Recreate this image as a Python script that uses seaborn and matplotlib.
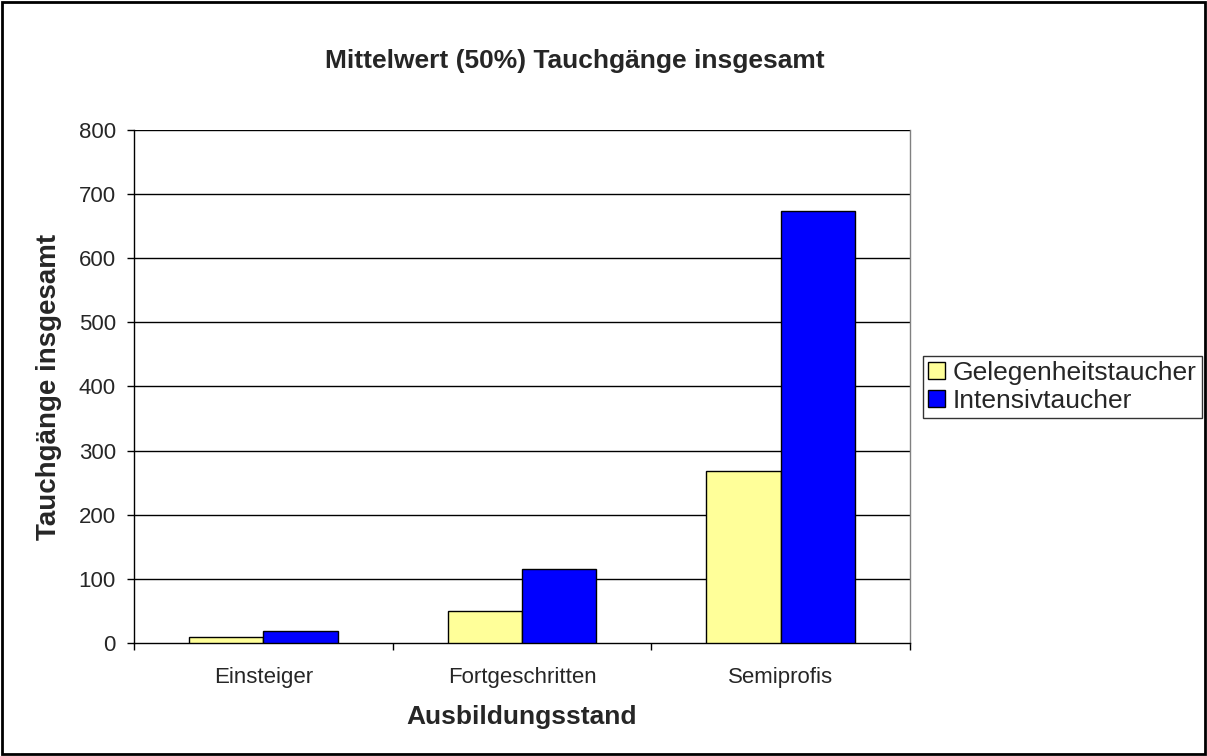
import pandas as pd
import numpy as np
import matplotlib.pyplot as plt
import seaborn as sns
from matplotlib.patches import Rectangle

# Values
categories = ["Einsteiger", "Fortgeschritten", "Semiprofis"]
gelegenheit = [10, 50, 269]
intensiv = [18, 115, 674]
series_names = ["Gelegenheitstaucher", "Intensivtaucher"]
colors = ["#FFFF99", "#0000FF"]
y_ticks = [0, 100, 200, 300, 400, 500, 600, 700, 800]

df = pd.DataFrame({
    "Ausbildungsstand": categories * 2,
    "Wert": gelegenheit + intensiv,
    "Gruppe": [series_names[0]] * 3 + [series_names[1]] * 3,
})

sns.set_style("white")
plt.rcParams['font.family'] = ['Liberation Sans', 'DejaVu Sans']

fig = plt.figure(figsize=(12.07, 7.56), dpi=100)
# plot area in pixels: x 134..910, y 130..643
ax = fig.add_axes([134 / 1207, 113 / 756, 776 / 1207, 513 / 756])

sns.barplot(data=df, x="Ausbildungsstand", y="Wert", hue="Gruppe",
            palette=colors, width=0.576, edgecolor="black", linewidth=1,
            saturation=1, ax=ax, zorder=3)

ax.set_ylim(0, 800)
ax.set_xlim(-0.5, 2.5)
ax.set_yticks(y_ticks)
ax.set_yticklabels([str(v) for v in y_ticks], fontsize=16)
for v in y_ticks[1:]:
    ax.axhline(v, color="black", lw=1, zorder=1)

# category boundary ticks as major, labels on minor
ax.set_xticks([-0.5, 0.5, 1.5, 2.5])
ax.set_xticklabels([])
ax.set_xticks([0, 1, 2], minor=True)
ax.set_xticklabels(categories, minor=True, fontsize=16)
ax.tick_params(axis="x", which="major", direction="out", length=5, width=1, color="black", bottom=True)
ax.tick_params(axis="x", which="minor", length=0, pad=17)
ax.tick_params(axis="y", direction="out", length=5, width=1, color="black", left=True, pad=8)

for s in ["left", "bottom"]:
    ax.spines[s].set_color("black")
    ax.spines[s].set_linewidth(1)
ax.spines["top"].set_visible(False)
ax.spines["right"].set_color("#808080")
ax.spines["right"].set_linewidth(1)

ax.set_xlabel("Ausbildungsstand", fontsize=19, fontweight="bold")
ax.xaxis.set_label_coords(0.5, -0.12)
ax.set_ylabel("Tauchgänge insgesamt", fontsize=20, fontweight="bold")
ax.yaxis.set_label_coords(-0.093, 0.5)
fig.text(575 / 1207, 1 - 61 / 756, "Mittelwert (50%) Tauchgänge insgesamt",
         ha="center", va="center", fontsize=19, fontweight="bold")

leg = ax.legend(loc="center left", bbox_to_anchor=(1.0168, 0.499), fontsize=19,
                frameon=True, fancybox=False, edgecolor="black",
                handlelength=0.62, handleheight=0.62, handletextpad=0.3,
                borderpad=0.2, labelspacing=0.15, borderaxespad=0)
leg.get_frame().set_linewidth(1)

# outer chart border
fig.patches.append(Rectangle((0.002, 0.003), 0.996, 0.994, transform=fig.transFigure,
                             fill=False, edgecolor="black", linewidth=2))

fig.savefig("out.png", dpi=100)
